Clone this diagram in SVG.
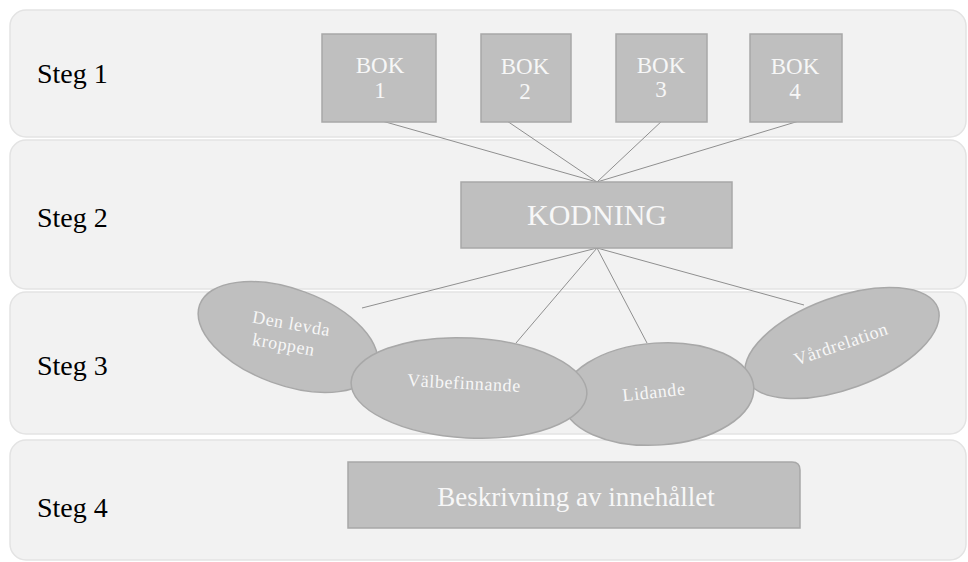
<svg xmlns="http://www.w3.org/2000/svg" width="968" height="562" viewBox="0 0 968 562">
<style>
.band{fill:#f2f2f2;stroke:#e3e3e3;stroke-width:1.5}
.step{font-family:"Liberation Serif",serif;font-size:28px;fill:#000}
.node{fill:#bfbfbf;stroke:#a8a8a8;stroke-width:1.5}
.nt{font-family:"Liberation Serif",serif;fill:#f7f7f7;text-anchor:middle}
.bk{font-size:23px}
.el{font-size:18px;letter-spacing:0.6px}
.conn line{stroke:#8f8f8f;stroke-width:1}
</style>
<rect width="968" height="562" fill="#ffffff"/>
<g id="bands">
<rect class="band" x="10" y="10" width="956" height="127" rx="16"/>
<rect class="band" x="10" y="140" width="956" height="149" rx="16"/>
<rect class="band" x="10" y="292" width="956" height="142" rx="16"/>
<rect class="band" x="10" y="440" width="956" height="120" rx="16"/>
</g>
<g id="labels">
<text class="step" x="37" y="83">Steg 1</text>
<text class="step" x="37" y="227">Steg 2</text>
<text class="step" x="37" y="375">Steg 3</text>
<text class="step" x="37" y="517">Steg 4</text>
</g>
<g class="conn" id="connectors">
<line x1="375" y1="119" x2="597" y2="182"/>
<line x1="507" y1="121" x2="597" y2="182"/>
<line x1="664" y1="119" x2="597" y2="182"/>
<line x1="799" y1="121" x2="597" y2="182"/>
<line x1="597" y1="248" x2="362" y2="308"/>
<line x1="597" y1="248" x2="516" y2="343"/>
<line x1="597" y1="248" x2="647" y2="343"/>
<line x1="597" y1="248" x2="804" y2="305"/>
</g>
<g id="bok1"><rect class="node" x="322" y="34" width="114" height="88"/><text class="nt bk" x="380" y="73">BOK</text><text class="nt bk" x="380" y="98">1</text></g>
<g id="bok2"><rect class="node" x="481" y="34" width="90" height="88"/><text class="nt bk" x="525" y="74">BOK</text><text class="nt bk" x="525" y="99">2</text></g>
<g id="bok3"><rect class="node" x="616" y="34" width="91" height="88"/><text class="nt bk" x="661" y="73">BOK</text><text class="nt bk" x="661" y="97">3</text></g>
<g id="bok4"><rect class="node" x="750" y="34" width="92" height="88"/><text class="nt bk" x="795" y="74">BOK</text><text class="nt bk" x="795" y="99">4</text></g>
<g id="kodning"><rect class="node" x="461" y="182" width="271" height="66"/><text class="nt" font-size="30" x="597" y="225">KODNING</text></g>
<g id="vardrelation"><ellipse class="node" cx="842" cy="343" rx="102" ry="46" transform="rotate(-20 842 343)"/><text class="nt el" x="841" y="350" transform="rotate(-19 841 344)">Vårdrelation</text></g>
<g id="lidande"><ellipse class="node" cx="658" cy="394" rx="96" ry="51" transform="rotate(-4 658 394)"/><text class="nt el" x="654" y="398" transform="rotate(-6 654 393)">Lidande</text></g>
<g id="denlevda"><ellipse class="node" cx="288" cy="337" rx="94" ry="48" transform="rotate(20 288 337)"/><text class="nt el" transform="rotate(10 287 337)"><tspan x="289" y="329">Den levda</tspan><tspan x="285" y="351">kroppen</tspan></text></g>
<g id="valbefinnande"><ellipse class="node" cx="469" cy="388" rx="118" ry="50" transform="rotate(3 469 388)"/><text class="nt el" x="464" y="389" transform="rotate(3 464 384)">Välbefinnande</text></g>
<g id="beskrivning"><path class="node" d="M348 462 H792 Q800 462 800 470 V528 H348 Z"/><text class="nt" font-size="27" x="576" y="506">Beskrivning av innehållet</text></g>
</svg>
